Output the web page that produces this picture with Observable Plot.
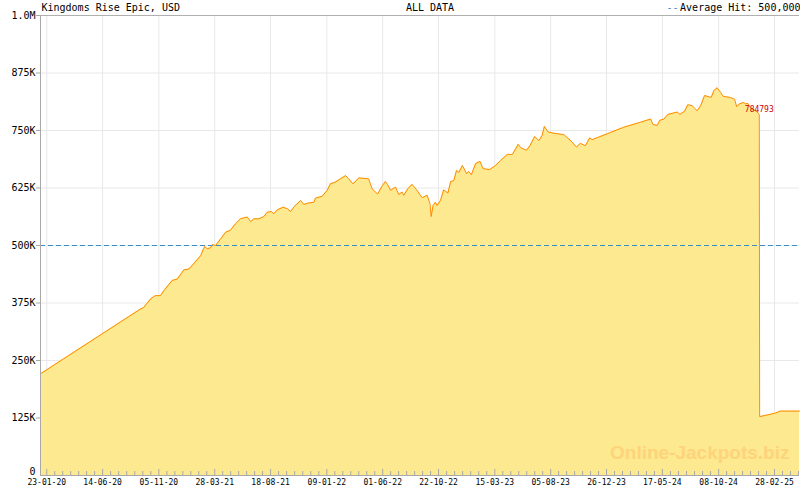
<!DOCTYPE html>
<html><head><meta charset="utf-8">
<script src="https://cdn.jsdelivr.net/npm/d3@7"></script>
<script src="https://cdn.jsdelivr.net/npm/@observablehq/plot@0.6"></script>
<style>body{margin:0;background:#fff}</style>
</head><body><div id="chart"></div>
<script>
const titleText = "Kingdoms Rise Epic, USD";
const rangeText = "ALL DATA";
const legendText = "Average Hit: 500,000";
const watermark = "Online-Jackpots.biz";
const averageHit = 500000;
const domainDates = ["2020-01-07", "2025-05-03"];
const tickDates = ["2020-01-23","2020-06-14","2020-11-05","2021-03-28","2021-08-18","2022-01-09","2022-06-01","2022-10-22","2023-03-15","2023-08-05","2023-12-26","2024-05-17","2024-10-08","2025-02-28"];
const yTicks = [0,125000,250000,375000,500000,625000,750000,875000,1000000];
const dates = ["2020-01-07","2020-09-19","2020-09-27","2020-10-15","2020-10-27","2020-11-09","2020-11-18","2020-12-09","2020-12-22","2021-01-08","2021-01-21","2021-02-11","2021-02-20","2021-03-02","2021-03-09","2021-03-17","2021-03-22","2021-03-30","2021-04-12","2021-04-25","2021-05-07","2021-05-20","2021-06-02","2021-06-19","2021-06-28","2021-07-06","2021-07-19","2021-08-01","2021-08-09","2021-08-20","2021-08-26","2021-09-05","2021-09-19","2021-09-30","2021-10-08","2021-10-18","2021-11-03","2021-11-11","2021-11-20","2021-12-07","2021-12-11","2021-12-28","2022-01-10","2022-01-18","2022-01-31","2022-02-13","2022-02-26","2022-03-06","2022-03-17","2022-04-01","2022-04-26","2022-05-05","2022-05-19","2022-05-31","2022-06-08","2022-06-14","2022-06-21","2022-07-04","2022-07-12","2022-07-21","2022-07-25","2022-08-04","2022-08-15","2022-08-27","2022-09-10","2022-09-23","2022-09-30","2022-10-03","2022-10-08","2022-10-14","2022-10-18","2022-10-27","2022-11-04","2022-11-15","2022-11-22","2022-11-30","2022-12-07","2022-12-13","2022-12-22","2023-01-02","2023-01-07","2023-01-14","2023-01-25","2023-02-05","2023-02-13","2023-03-02","2023-03-17","2023-03-30","2023-04-16","2023-04-29","2023-05-14","2023-05-20","2023-06-04","2023-06-13","2023-06-25","2023-07-06","2023-07-14","2023-07-20","2023-07-29","2023-08-13","2023-09-08","2023-09-16","2023-09-29","2023-10-10","2023-10-20","2023-11-02","2023-11-13","2023-11-19","2023-12-28","2024-02-08","2024-03-22","2024-04-17","2024-04-23","2024-05-04","2024-05-10","2024-05-21","2024-05-31","2024-06-24","2024-07-01","2024-07-13","2024-07-21","2024-08-01","2024-08-14","2024-08-23","2024-09-02","2024-09-19","2024-09-26","2024-10-04","2024-10-13","2024-10-20","2024-11-07","2024-11-18","2024-11-23","2024-12-01","2024-12-10","2024-12-16","2024-12-22","2024-12-29","2025-01-06","2025-01-15","2025-01-20","2025-01-21","2025-02-17","2025-03-03","2025-03-15","2025-05-03"];
const values = [221000,362000,365000,384000,391000,391000,402000,424000,427000,447000,449000,469000,478000,498000,493000,495000,502000,500000,514000,529000,533000,547000,558000,562000,552000,558000,558000,563000,572000,574000,569000,578000,583000,580000,574000,585000,598000,589000,592000,594000,603000,607000,620000,634000,638000,645000,652000,645000,634000,647000,645000,623000,612000,630000,639000,632000,620000,627000,611000,616000,609000,623000,633000,621000,604000,609000,591000,563000,587000,594000,587000,598000,621000,614000,639000,641000,663000,659000,674000,656000,661000,654000,678000,683000,667000,665000,674000,685000,698000,698000,720000,713000,707000,717000,737000,728000,739000,759000,747000,744000,741000,735000,725000,714000,722000,717000,734000,730000,743000,757000,768000,775000,763000,761000,772000,775000,785000,790000,785000,792000,806000,804000,793000,804000,826000,822000,837000,843000,833000,824000,822000,818000,802000,808000,811000,808000,809000,799000,795000,790000,784793,128000,133000,136000,140000,140000];
const labelValue = 784793;

const parse = d3.utcParse("%Y-%m-%d");
const data = dates.map((d, i) => ({date: parse(d), value: values[i]}));
const xDomain = domainDates.map(parse);
const majors = tickDates.map(parse);
// minor ticks: 7 subdivisions between majors, continued to the domain end
const minors = [];
for (let i = 0; i < majors.length - 1; i++) {
  const a = +majors[i], b = +majors[i + 1];
  for (let k = 1; k < 7; k++) minors.push(new Date(a + (b - a) * k / 7));
}
{
  const step = (+majors[majors.length - 1] - +majors[0]) / ((majors.length - 1) * 7);
  for (let t = +majors[majors.length - 1] + step; t <= +xDomain[1]; t += step) minors.push(new Date(t));
}
const labelData = data.filter(d => d.value === labelValue);
const fmtY = v => v === 0 ? "0" : v >= 1000000 ? (v / 1000000).toFixed(1) + "M" : (v / 1000) + "K";
const mono = "DejaVu Sans Mono";
const yTicksUpper = yTicks.filter(v => v > 0);
const yTicksZero = yTicks.filter(v => v === 0);

const chart = Plot.plot({
  width: 800,
  height: 490,
  marginLeft: 40,
  marginRight: 1,
  marginTop: 15,
  marginBottom: 15,
  style: {fontFamily: mono, fontSize: "10px", background: "#fff"},
  x: {type: "utc", domain: xDomain, axis: null},
  y: {domain: [0, 1000000], axis: null},
  marks: [
    Plot.gridY(yTicks, {stroke: "#e8e8e8", strokeOpacity: 1}),
    Plot.gridX(majors, {stroke: "#e8e8e8", strokeOpacity: 1}),
    Plot.areaY(data, {x: "date", y: "value", fill: "#fde98f"}),
    Plot.text([watermark], {frameAnchor: "bottom-right", textAnchor: "end", dx: -10, dy: -17, fontSize: 19, fontWeight: "bold", fontFamily: "Liberation Sans, Arial, sans-serif", fill: "#fdd37c"}),
    Plot.ruleY([averageHit], {stroke: "#3b8ec4", strokeDasharray: "5,3"}),
    Plot.lineY(data, {x: "date", y: "value", stroke: "#ff8a00", strokeWidth: 1}),
    Plot.text(labelData, {x: "date", y: "value", text: d => String(d.value), dy: -5, fill: "#cc0000", fontSize: 8, fontFamily: mono}),
    Plot.ruleY([1000000], {stroke: "#b0b0b0"}),
    Plot.ruleY([0], {stroke: "#a8a8a8"}),
    Plot.ruleX([xDomain[0]], {stroke: "#a8a8a8"}),
    Plot.tickX(majors, {x: d => d, stroke: "#a8a8a8", insetTop: 454}),
    Plot.tickX(minors, {x: d => d, stroke: "#a8a8a8", insetTop: 456}),
    Plot.axisX(majors, {tickSize: 0, tickPadding: 4, tickFormat: d3.utcFormat("%d-%m-%y"), fontSize: 8, fontFamily: mono, fill: "#000", label: null}),
    Plot.axisY(yTicksUpper, {tickSize: 4, tickPadding: 1, tickFormat: fmtY, fontSize: 10, fontFamily: mono, stroke: "#a8a8a8", label: null}),
    Plot.axisY(yTicksZero, {tickSize: 0, tickPadding: 5, tickFormat: fmtY, fontSize: 10, fontFamily: mono, label: null, dy: -4}),
    Plot.text([titleText], {frameAnchor: "top-left", textAnchor: "start", lineAnchor: "middle", dx: 1, dy: -8, fontSize: 10, fill: "#000"}),
    Plot.text([rangeText], {frameAnchor: "top", textAnchor: "middle", lineAnchor: "middle", dx: 10, dy: -8, fontSize: 10, fill: "#000"}),
    Plot.text(["--"], {frameAnchor: "top-right", textAnchor: "end", lineAnchor: "middle", dx: -121, dy: -8, fontSize: 10, fill: "#3b8ec4"}),
    Plot.text([legendText], {frameAnchor: "top-right", textAnchor: "end", lineAnchor: "middle", dx: 1, dy: -8, fontSize: 10, fill: "#000"})
  ]
});
document.getElementById("chart").appendChild(chart);
</script>
</body></html>
